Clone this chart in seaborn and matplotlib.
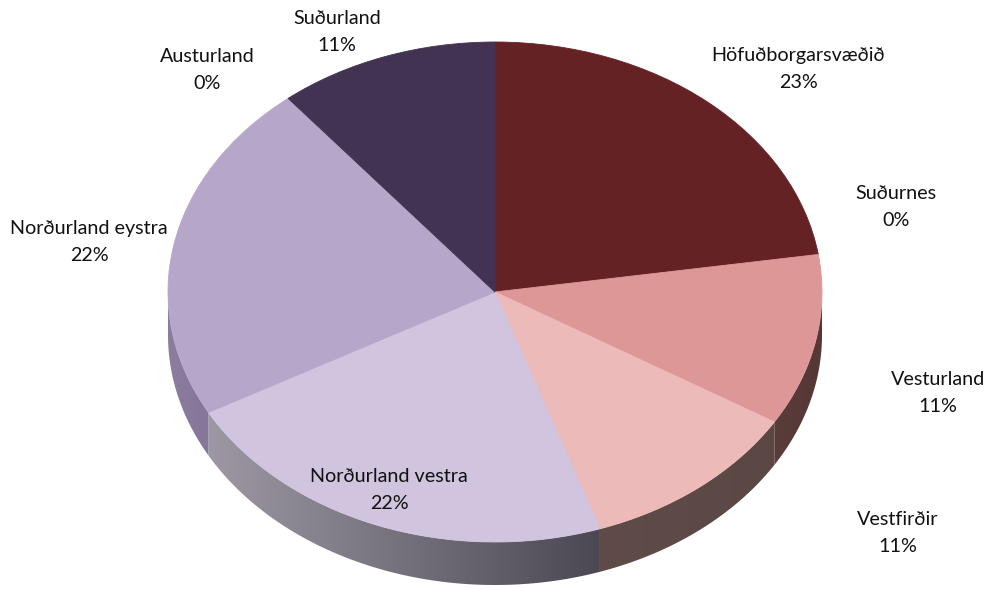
import numpy as np
import matplotlib
matplotlib.use("Agg")
import matplotlib.pyplot as plt
import seaborn as sns
from matplotlib.patches import Polygon
from matplotlib.colors import to_rgb

# ---- data ----
regions = ["Höfuðborgarsvæðið", "Suðurnes", "Vesturland", "Vestfirðir",
           "Norðurland vestra", "Norðurland eystra", "Austurland", "Suðurland"]
shares = [22.6, 0.0, 11.1, 11.1, 22.2, 22.1, 0.0, 10.9]

# ---- styles ----
top_colors = ["#652224", "#7a3030", "#DE9797", "#ECBAB9",
              "#D0C4DE", "#B6A6CA", "#9c8cb0", "#433352"]
side_colors = [("#572A2A", "#572A2A"), ("#5a2e2e", "#5a2e2e"),
               ("#5A3C3B", "#553736"), ("#5F4C49", "#5B4845"),
               ("#9D98A4", "#4B4854"), ("#8D7D9D", "#85769A"),
               ("#8a7a9a", "#8a7a9a"), ("#3a2c47", "#3a2c47")]
# label block centres in figure pixels (x, y from top)
label_px = [(798, 69), (896, 207), (938, 393), (898, 533),
            (389, 490), (89, 242), (207, 70), (337, 32)]

W, H = 988, 589
cx, cy, rx, ry, depth = 495, 292, 327, 250, 43

sns.set_theme(style="white")
plt.rcParams["font.family"] = ["Lato", "DejaVu Sans"]

fig = plt.figure(figsize=(W / 100, H / 100), dpi=100)
ax = fig.add_axes([0, 0, 1, 1])

wedges, _ = ax.pie(shares, colors=top_colors, startangle=90, counterclock=False,
                   radius=1.0, center=(0, 0),
                   wedgeprops=dict(linewidth=0.6, zorder=3))
for w, c in zip(wedges, top_colors):
    w.set_edgecolor(c)

d = depth / ry
for w, (cl, cr) in zip(wedges, side_colors):
    t1, t2 = w.theta1, w.theta2
    for k in range(-1, 2):
        a = max(t1, 180 + 360 * k)
        b = min(t2, 360 + 360 * k)
        if b - a <= 0.01:
            continue
        t = np.radians(np.linspace(a, b, 120))
        top = np.column_stack([np.cos(t), np.sin(t)])
        bot = np.column_stack([np.cos(t), np.sin(t) - d])[::-1]
        verts = np.vstack([top, bot])
        poly = Polygon(verts, closed=True, transform=ax.transData,
                       facecolor="none", edgecolor="none")
        ax.add_patch(poly)
        x0, x1 = verts[:, 0].min(), verts[:, 0].max()
        y0, y1 = verts[:, 1].min(), verts[:, 1].max()
        n = 256
        f = np.linspace(0, 1, n)[None, :, None]
        grad = (1 - f) * np.array(to_rgb(cl))[None, None, :] + f * np.array(to_rgb(cr))[None, None, :]
        grad = np.repeat(grad, 2, axis=0)
        im = ax.imshow(grad, extent=(x0, x1, y0, y1), aspect="auto",
                       interpolation="bilinear", zorder=1, origin="lower")
        im.set_clip_path(poly)

for name, v, (px, py) in zip(regions, shares, label_px):
    ax.text(px / W, 1 - py / H, f"{name}\n{v:.0f}%", transform=ax.transAxes,
            ha="center", va="center", multialignment="center",
            fontsize=14.2, color="#111111", linespacing=1.65, zorder=5)

ax.set_aspect("auto")
ax.set_xlim(-cx / rx, (W - cx) / rx)
ax.set_ylim(-(H - cy) / ry, cy / ry)
ax.axis("off")

fig.savefig("out.png", dpi=100, facecolor="white")
